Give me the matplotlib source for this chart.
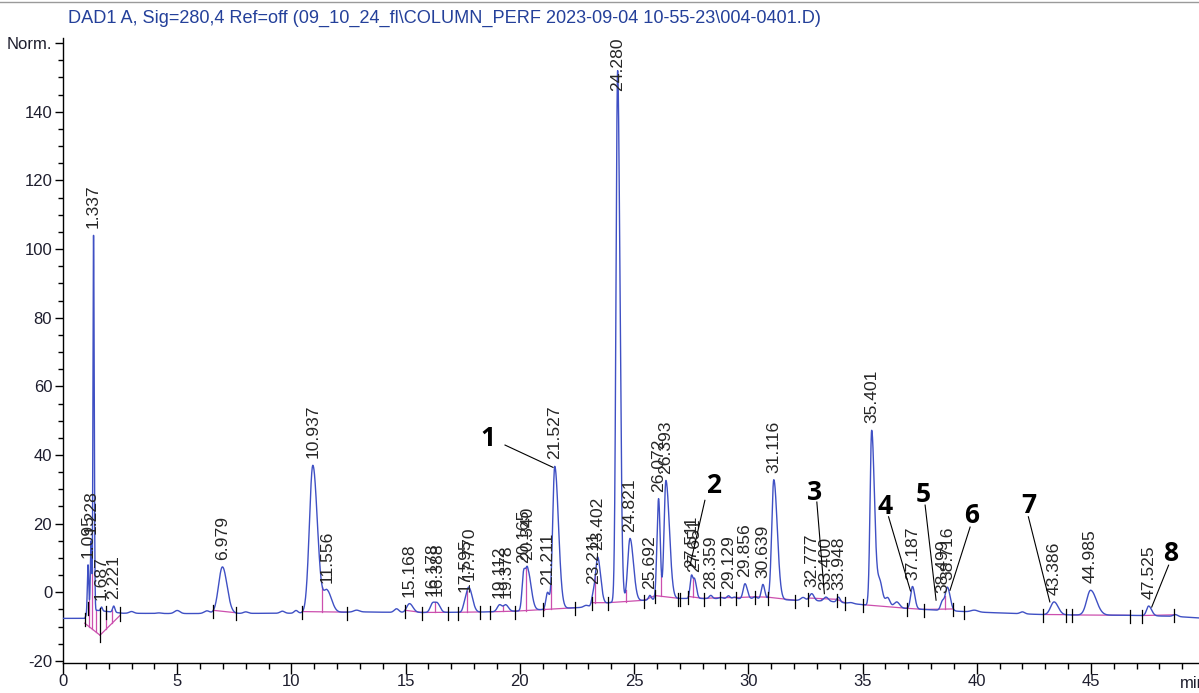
import numpy as np
import matplotlib
matplotlib.use("Agg")
import matplotlib.pyplot as plt
from matplotlib import font_manager as fm
from matplotlib.lines import Line2D

def pick(names):
    for n in names:
        try:
            fm.findfont(fm.FontProperties(family=n), fallback_to_default=False)
            return n
        except Exception:
            pass
    return "DejaVu Sans"

SANS = pick(["Liberation Sans", "Arial", "DejaVu Sans"])
BOLD = pick(["Open Sans", "Lato", "Liberation Sans"])

# ---------------- data ----------------
title = r"DAD1 A, Sig=280,4 Ref=off (09_10_24_fl\COLUMN_PERF 2023-09-04 10-55-23\004-0401.D)"

# labelled peaks: retention time (min), apex signal (Norm.), left / right widths (min)
peak_rt = [1.095, 1.228, 1.337, 1.687, 2.221, 6.979, 10.937, 11.556, 15.168, 16.178,
           16.388, 17.595, 17.770, 19.112, 19.378, 20.165, 20.340, 21.211, 21.527, 23.211,
           23.402, 24.280, 24.821, 25.692, 26.072, 26.393, 27.511, 27.651, 28.359, 29.129,
           29.856, 30.639, 31.116, 32.777, 33.400, 33.948, 35.401, 37.187, 38.499, 38.716,
           43.386, 44.985, 47.525]
peak_labels = ["1.095", "1.228", "1.337", "1.687", "2.221", "6.979", "10.937", "11.556",
               "15.168", "16.178", "16.388", "17.595", "17.770", "19.112", "19.378",
               "20.165", "20.340", "21.211", "21.527", "23.211", "23.402", "24.280",
               "24.821", "25.692", "26.072", "26.393", "27.511", "27.651", "28.359",
               "29.129", "29.856", "30.639", "31.116", "32.777", "33.400", "33.948",
               "35.401", "37.187", "38.499", "38.716", "43.386", "44.985", "47.525"]
peak_apex = [8.0, 15.0, 104.0, -4.3, -4.0, 7.4, 37.0, 0.8, -3.3, -3.0,
             -3.0, -1.8, 1.5, -3.6, -3.6, 6.5, 7.3, 0.0, 36.7, 0.5,
             10.3, 152.0, 15.7, -0.9, 27.3, 32.6, 5.0, 4.0, -0.9, -1.0,
             2.5, 2.3, 32.8, -0.4, -1.4, -1.4, 47.2, 1.7, -2.3, 1.5,
             -2.8, 0.6, -4.0]
peak_wl = [0.03, 0.03, 0.025, 0.04, 0.05, 0.17, 0.15, 0.15, 0.12, 0.10,
           0.10, 0.08, 0.10, 0.10, 0.10, 0.07, 0.08, 0.07, 0.09, 0.07,
           0.09, 0.07, 0.10, 0.06, 0.07, 0.08, 0.06, 0.06, 0.07, 0.07,
           0.08, 0.07, 0.09, 0.10, 0.10, 0.07, 0.07, 0.08, 0.08, 0.09,
           0.15, 0.17, 0.09]
peak_wr = [0.03, 0.03, 0.03, 0.04, 0.05, 0.20, 0.20, 0.20, 0.15, 0.10,
           0.12, 0.08, 0.15, 0.10, 0.12, 0.08, 0.15, 0.08, 0.16, 0.07,
           0.13, 0.10, 0.15, 0.06, 0.07, 0.15, 0.06, 0.08, 0.07, 0.07,
           0.10, 0.08, 0.15, 0.10, 0.10, 0.07, 0.12, 0.10, 0.08, 0.12,
           0.18, 0.25, 0.13]

# small unlabelled bumps of the trace
bump_rt = [3.0, 4.2, 5.0, 6.3, 8.0, 9.6, 10.2, 12.85, 14.6, 22.9, 28.8, 29.4,
           30.3, 32.4, 34.5, 35.75, 36.1, 36.5, 39.9, 42.0, 48.7]
bump_apex = [-5.6, -6.0, -5.3, -5.4, -5.7, -5.5, -5.3, -5.2, -4.8, -3.8, -1.5, -1.4,
             -1.3, -1.5, -3.0, 4.0, -1.5, -2.8, -5.2, -5.7, -6.5]
bump_w = [0.1, 0.1, 0.12, 0.12, 0.1, 0.1, 0.08, 0.12, 0.1, 0.1, 0.08, 0.08,
          0.08, 0.1, 0.1, 0.12, 0.1, 0.12, 0.15, 0.1, 0.1]

# drifting baseline of the signal
base_t = [0.0, 0.95, 1.15, 2.6, 5.0, 10.0, 13.0, 15.0, 18.0, 19.8, 21.0, 22.4, 23.1,
          23.9, 25.5, 26.9, 28.0, 30.5, 32.0, 33.5, 35.0, 36.9, 37.7, 39.4, 42.9,
          44.2, 46.7, 48.6, 49.8]
base_v = [-7.6, -7.6, -5.0, -6.1, -6.2, -6.1, -5.7, -5.9, -5.8, -5.5, -5.0, -4.5, -4.3,
          -3.0, -2.3, -1.8, -1.8, -1.9, -2.3, -2.6, -3.6, -4.7, -5.0, -5.6, -6.5,
          -6.6, -6.7, -7.0, -7.5]

# integration baselines (start, end) and drop lines
seg_fixed = [(0.95, -9.0, 1.62, -12.5), (1.62, -12.5, 2.5, -6.7)]
segments = [(6.58, 7.56), (10.48, 12.42), (14.97, 15.7), (15.7, 16.87), (17.3, 18.26),
            (18.7, 19.79), (19.79, 22.42), (23.15, 23.87), (23.87, 25.45), (25.45, 25.92),
            (25.92, 26.94), (27.38, 28.04), (28.04, 28.77), (28.77, 29.47), (29.47, 30.3),
            (30.3, 30.85), (30.85, 32.05), (32.63, 33.87), (33.87, 34.24), (35.01, 36.94),
            (36.94, 37.67), (37.67, 38.98), (42.92, 43.9), (44.16, 46.69), (47.23, 48.64)]
drops = [11.35, 16.29, 17.68, 19.25, 20.25, 21.05, 21.35, 23.3, 24.63, 26.2, 27.6,
         33.2, 38.6]
drops_early = [1.16, 1.28, 1.45, 1.9, 2.15]
extra_ticks = [1.1, 1.9, 21.03, 27.0, 39.45]

# annotations: number, text position, line start, line end
annotations = [("1", 18.6, 44.9, 19.35, 42.9, 21.45, 36.4),
               ("2", 28.46, 31.2, 28.1, 26.8, 27.45, 7.9),
               ("3", 32.9, 29.2, 33.0, 26.3, 33.33, -0.4),
               ("4", 36.0, 24.9, 36.14, 22.0, 37.1, 0.4),
               ("5", 37.64, 28.6, 37.74, 25.4, 38.22, -2.3),
               ("6", 39.77, 22.4, 39.71, 19.0, 38.83, 0.6),
               ("7", 42.26, 25.4, 42.26, 22.0, 43.2, -2.8),
               ("8", 48.47, 11.4, 48.4, 7.9, 47.66, -4.3)]

y_major = [-20, 0, 20, 40, 60, 80, 100, 120, 140, 160]
y_labels = ["-20", "0", "20", "40", "60", "80", "100", "120", "140", "Norm."]
x_major = [0, 5, 10, 15, 20, 25, 30, 35, 40, 45]

# ---------------- build the trace ----------------
t = np.linspace(0, 49.8, 20000)

def shape(x, c, wl, wr):
    s = np.where(x < c, wl, wr)
    return np.exp(-0.5 * ((x - c) / s) ** 2)

def base(x):
    return np.interp(x, base_t, base_v)

all_rt = list(peak_rt) + list(bump_rt)
all_apex = list(peak_apex) + list(bump_apex)
all_wl = list(peak_wl) + list(bump_w)
all_wr = list(peak_wr) + list(bump_w)
n = len(all_rt)
rt_arr = np.array(all_rt)
M = np.zeros((n, n))
for j in range(n):
    M[:, j] = shape(rt_arr, all_rt[j], all_wl[j], all_wr[j])
amp = np.linalg.solve(M, np.array(all_apex) - base(rt_arr))

y = base(t)
for j in range(n):
    y = y + amp[j] * shape(t, all_rt[j], all_wl[j], all_wr[j])

def trace(x):
    return np.interp(x, t, y)

def seg_val(x):
    return min(trace(x), base(x) + 1.2)

# ---------------- draw ----------------
fig = plt.figure(figsize=(11.99, 6.93), dpi=100)
W, H = 1199, 693
ax = fig.add_axes([63 / W, 1 - 663 / H, 1 - 63 / W, (663 - 38) / H])

BLUE = "#3f50c4"
MAG = "#cc4fae"

ax.plot(t, y, color=BLUE, lw=1.0, zorder=3)

for (a0, v0, a1, v1) in seg_fixed:
    ax.plot([a0, a1], [v0, v1], color=MAG, lw=0.9, zorder=2)
for te in drops_early:
    vb = np.interp(te, [0.95, 1.62, 2.5], [-9.0, -12.5, -6.7])
    ax.plot([te, te], [vb, trace(te)], color=MAG, lw=0.9, zorder=2)

tick_pts = [0.95, 2.5]
for (a0, a1) in segments:
    v0, v1 = seg_val(a0), seg_val(a1)
    ax.plot([a0, a1], [v0, v1], color=MAG, lw=0.9, zorder=2)
    tick_pts += [a0, a1]
    for d in drops:
        if a0 < d < a1:
            vb = v0 + (v1 - v0) * (d - a0) / (a1 - a0)
            ax.plot([d, d], [vb, trace(d)], color=MAG, lw=0.9, zorder=2)

for tp in sorted(set(tick_pts + extra_ticks)):
    v = seg_val(tp)
    ax.plot([tp, tp], [v - 2.2, v + 1.6], color="black", lw=0.9, zorder=4)
ax.plot([1.62, 1.62], [-14.6, -4.5], color="black", lw=0.9, zorder=4)

# peak labels
top = 161.5
for rt, ap, lab in zip(peak_rt, peak_apex, peak_labels):
    yb = min(ap + 2.0, 146.0)
    ax.text(rt, yb, lab, rotation=90, ha="center", va="bottom", fontsize=12.6,
            family=SANS, color="#262626", zorder=5)

for (lab, tx, ty, x0, y0, x1, y1) in annotations:
    ax.plot([x0, x1], [y0, y1], color="black", lw=0.8, zorder=6)
    ax.text(tx, ty, lab, ha="center", va="center", fontsize=19, fontweight="bold",
            family=BOLD, color="black", zorder=7)

ax.set_xlim(0, 49.73)
ax.set_ylim(-20.6, top)
for s in ["top", "right"]:
    ax.spines[s].set_visible(False)
for s in ["left", "bottom"]:
    ax.spines[s].set_linewidth(1.0)
    ax.spines[s].set_color("black")

ax.set_xticks(x_major)
ax.set_xticklabels([str(v) for v in x_major])
ax.set_xticks(np.arange(0, 50, 1), minor=True)
ax.set_yticks(y_major)
ax.set_yticklabels(y_labels)
ax.set_yticks(np.arange(-20, 161, 5), minor=True)
ax.tick_params(axis="x", which="major", length=8, width=1, direction="out", pad=0,
               labelsize=12, colors="black", labelcolor="#1e1e2e")
ax.tick_params(axis="x", which="minor", length=4.3, width=1, direction="out")
ax.tick_params(axis="y", which="major", length=5.8, width=1, direction="out", pad=2,
               labelsize=12, colors="black", labelcolor="#1e1e2e")
ax.tick_params(axis="y", which="minor", length=3.6, width=1, direction="out")
for lbl in ax.get_xticklabels() + ax.get_yticklabels():
    lbl.set_family(SANS)

fig.text(1193 / W, 1 - 683 / H, "min", ha="center", va="center", fontsize=12,
         family=SANS, color="#1e1e2e")

fig.text(68 / W, 1 - 18 / H, title, ha="left", va="center", fontsize=13.1,
         family=SANS, color="#24409a")
fig.add_artist(Line2D([0, 1], [1 - 2 / H, 1 - 2 / H], color="#9a9a9a", lw=1.0,
                      transform=fig.transFigure))

fig.savefig("out.png", dpi=100)
